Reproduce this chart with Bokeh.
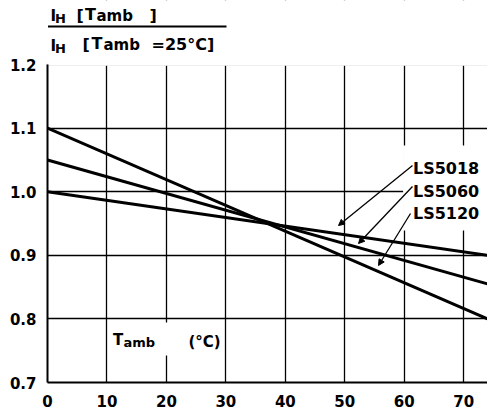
from bokeh.plotting import figure
from bokeh.models import Label, Arrow, NormalHead, BoxAnnotation, FixedTicker, Range1d
from bokeh.embed import file_html
from bokeh.resources import INLINE

# ---- data ----
temps = [0, 74]
ls5018 = [1.00, 0.90]
ls5060 = [1.05, 0.855]
ls5120 = [1.10, 0.80]
series = [("LS5018", ls5018), ("LS5060", ls5060), ("LS5120", ls5120)]
x_ticks = [0, 10, 20, 30, 40, 50, 60, 70]
y_ticks = [0.7, 0.8, 0.9, 1.0, 1.1, 1.2]
y_tick_labels = ["0.7", "0.8", "0.9", "1.0", "1.1", "1.2"]

FONT = "DejaVu Sans"
W, H = 487, 410
LEFT, BOTTOM = 47, 28            # frame borders (px)
FRAME_BOTTOM_PX = H - BOTTOM     # 382
Y0, Y1 = 0.7, 1.2
PX_PER_UNIT_Y = 635.8
Y_TOP = Y0 + FRAME_BOTTOM_PX / PX_PER_UNIT_Y   # frame spans to figure top
X_END = 74.0
PX_PER_UNIT_X = (W - LEFT) / X_END

p = figure(width=W, height=H, output_backend="svg", toolbar_location=None,
           x_range=Range1d(0, X_END), y_range=Range1d(Y0, Y_TOP),
           min_border_left=LEFT, min_border_right=0, min_border_top=0,
           min_border_bottom=BOTTOM)
p.background_fill_color = "white"
p.border_fill_color = "white"
p.outline_line_color = None

for ax in (p.xaxis[0], p.yaxis[0]):
    ax.axis_line_color = "black"
    ax.axis_line_width = 2
    ax.major_tick_line_color = None
    ax.minor_tick_line_color = None
    ax.major_label_text_font = FONT
    ax.major_label_text_font_style = "bold"
    ax.major_label_text_font_size = "15px"
    ax.major_label_text_color = "black"

p.xaxis[0].ticker = FixedTicker(ticks=x_ticks)
p.yaxis[0].ticker = FixedTicker(ticks=y_ticks)
p.yaxis[0].bounds = (Y0, Y1)
p.yaxis[0].major_label_overrides = {t: s for t, s in zip(y_ticks, y_tick_labels)}
p.xaxis[0].major_label_standoff = 6
p.yaxis[0].major_label_standoff = 5

for g in (p.xgrid[0], p.ygrid[0]):
    g.grid_line_color = "black"
    g.grid_line_width = 1.3
    g.grid_line_alpha = 1


def px(page_x):
    return (page_x - LEFT) / PX_PER_UNIT_X


def py(page_y):
    return Y0 + (FRAME_BOTTOM_PX - page_y) / PX_PER_UNIT_Y


# white areas: above the chart (title zone) and behind in-plot texts
p.add_layout(BoxAnnotation(bottom=py(65.2), fill_color="white", fill_alpha=1,
                           line_color=None, level="underlay"))
p.add_layout(BoxAnnotation(left=px(402.6), bottom=py(230), top=py(145),
                           fill_color="white", fill_alpha=1, line_color=None, level="underlay"))
p.add_layout(BoxAnnotation(left=12, right=28, bottom=py(355), top=py(322),
                           fill_color="white", fill_alpha=1, line_color=None, level="underlay"))

for name, vals in series:
    p.line(temps, vals, line_color="black", line_width=3)


def lab(x, y, t, size):
    p.add_layout(Label(x=x, y=y, text=t, text_font=FONT, text_font_style="bold",
                       text_font_size=size, text_color="black", text_baseline="alphabetic"))


# series labels with arrows
lab_base = [168, 190.7, 213]
arrows = [((412, 165), (338, 225)),
          ((412, 186), (358, 243)),
          ((410, 213), (378, 265))]
for (name, _), by, ((ax0, ay0), (ax1, ay1)) in zip(series, lab_base, arrows):
    lab(px(412.5), py(by), name, "16px")
    p.add_layout(Arrow(x_start=px(ax0), y_start=py(ay0), x_end=px(ax1), y_end=py(ay1),
                       line_width=1.3, line_color="black",
                       end=NormalHead(size=6, fill_color="black", line_color="black")))

# x-axis label inside plot
lab(px(112.5), py(339), "T", "15px")
lab(px(123), py(341.5), "amb", "13px")
lab(px(188), py(341), "(°C)", "15px")

# y-axis title as a fraction (top-left)
# numerator
lab(px(50), py(15.5), "I", "15px")
lab(px(54.5), py(18), "H", "13px")
lab(px(76), py(15), "[", "16px")
lab(px(84.5), py(13.5), "T", "16px")
lab(px(96), py(15.5), "amb", "15px")
lab(px(149), py(15), "]", "16px")
# fraction bar
p.add_layout(Arrow(x_start=px(47.5), y_start=py(26), x_end=px(226), y_end=py(26),
                   line_width=2, line_color="black", end=None))
# denominator
lab(px(50), py(45), "I", "15px")
lab(px(54.5), py(47.5), "H", "13px")
lab(px(82), py(44), "[", "16px")
lab(px(91), py(42.5), "T", "16px")
lab(px(103), py(44.5), "amb", "15px")
lab(px(151), py(43.5), "=25°C]", "16px")

open("out.html", "w").write(file_html(p, INLINE))
